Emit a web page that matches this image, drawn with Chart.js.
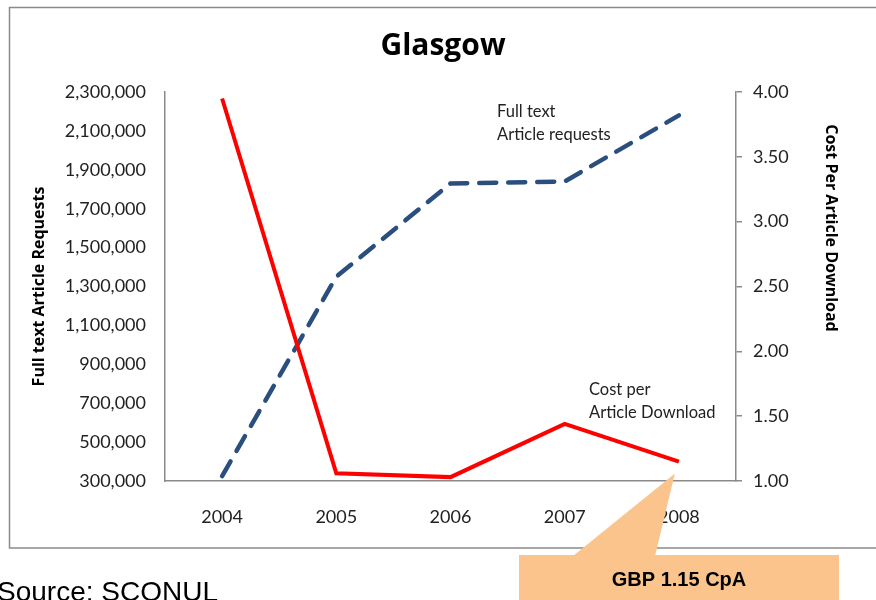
<!DOCTYPE html>
<html>
<head>
<meta charset="utf-8">
<script src="https://cdn.jsdelivr.net/npm/chart.js@4.4.1/dist/chart.umd.min.js"></script>
<style>
  html, body { margin: 0; padding: 0; background: #fff; }
  #wrap { width: 876px; height: 600px; overflow: hidden; }
</style>
</head>
<body>
<div id="wrap"><canvas id="myChart" width="876" height="600"></canvas></div>
<script>
const years = ['2004', '2005', '2006', '2007', '2008'];
const articleRequests = [325000, 1350000, 1830000, 1840000, 2180000];
const costPerDownload = [3.95, 1.06, 1.03, 1.44, 1.15];
const requestTicks = [300000, 500000, 700000, 900000, 1100000, 1300000, 1500000, 1700000, 1900000, 2100000, 2300000];
const costTicks = [1.0, 1.5, 2.0, 2.5, 3.0, 3.5, 4.0];
const callout = { year: 4, value: 1.15, text: 'GBP 1.15 CpA' };

const colors = {
  red: '#ff0000',
  blue: '#2a4f7f',
  axis: '#8a8a8a',
  text: '#222222',
  peach: '#fbc48d',
};

Chart.defaults.font.family = 'Lato, "Open Sans", sans-serif';
Chart.defaults.color = colors.text;

// frame, free text labels, source line and callout box
const extras = {
  id: 'extras',
  beforeDraw(chart) {
    const ctx = chart.ctx;
    ctx.save();
    ctx.fillStyle = '#fff';
    ctx.fillRect(0, 0, chart.width, chart.height);
    ctx.strokeStyle = colors.axis;
    ctx.lineWidth = 1.5;
    ctx.strokeRect(9.5, 7.5, 900, 540.5);
    ctx.restore();
  },
  afterDraw(chart) {
    const ctx = chart.ctx;
    const { x, y1 } = chart.scales;
    ctx.save();

    ctx.fillStyle = colors.text;
    ctx.font = '16.5px Lato';
    ctx.textAlign = 'left';
    ctx.textBaseline = 'middle';
    ctx.fillText('Full text', 497, 112);
    ctx.fillText('Article requests', 497, 135);
    ctx.fillText('Cost per', 589, 390);
    ctx.fillText('Article Download', 589, 413);

    // right axis title sits above centre in the original
    ctx.save();
    ctx.translate(831, 228);
    ctx.rotate(Math.PI / 2);
    ctx.fillStyle = '#000';
    ctx.font = 'bold 16px "Open Sans"';
    ctx.textAlign = 'center';
    ctx.fillText('Cost Per Article Download', 0, 0);
    ctx.restore();

    ctx.fillStyle = '#000';
    ctx.font = '28px "Liberation Sans", Arial';
    ctx.textBaseline = 'alphabetic';
    ctx.fillText('Source: SCONUL', -3, 601);

    const tipX = x.getPixelForValue(callout.year) - 4;
    const tipY = y1.getPixelForValue(callout.value) + 12;
    ctx.fillStyle = colors.peach;
    ctx.beginPath();
    ctx.moveTo(573, 556);
    ctx.lineTo(655, 556);
    ctx.lineTo(tipX, tipY);
    ctx.closePath();
    ctx.fill();
    ctx.fillRect(519, 555, 320, 50);

    ctx.fillStyle = '#000';
    ctx.font = 'bold 20px "Liberation Sans", Arial';
    ctx.textAlign = 'center';
    ctx.textBaseline = 'middle';
    ctx.fillText(callout.text, 679, 580);
    ctx.restore();
  },
};

const ctx = document.getElementById('myChart').getContext('2d');

const data = {
  labels: years,
  datasets: [
    {
      label: 'Cost per Article Download',
      data: costPerDownload,
      yAxisID: 'y1',
      borderColor: colors.red,
      borderWidth: 4,
      pointRadius: 0,
      tension: 0,
      fill: false,
    },
    {
      label: 'Full text Article requests',
      data: articleRequests,
      yAxisID: 'y',
      borderColor: colors.blue,
      borderWidth: 4.5,
      borderDash: [17, 12],
      borderCapStyle: 'round',
      pointRadius: 0,
      tension: 0,
      fill: false,
    },
  ],
};

const config = {
  type: 'line',
  data: data,
  plugins: [extras],
  options: {
    responsive: false,
    devicePixelRatio: 1,
    animation: false,
    layout: { padding: { left: 10, right: 0, top: 8, bottom: 59 } },
    plugins: {
      legend: { display: false },
      tooltip: { enabled: false },
      title: {
        display: true,
        text: 'Glasgow',
        color: '#000',
        font: { family: '"Open Sans"', size: 30, weight: 'bold' },
        padding: { top: 20, bottom: 28 },
      },
    },
    scales: {
      x: {
        offset: true,
        grid: { display: false },
        border: { display: true, color: colors.axis, width: 1.5 },
        ticks: { padding: 17, font: { size: 18 } },
        afterFit: (s) => { s.height = 60; },
      },
      y: {
        position: 'left',
        min: requestTicks[0],
        max: requestTicks[requestTicks.length - 1],
        grid: { display: false },
        border: { display: true, color: colors.axis, width: 1.5 },
        ticks: {
          stepSize: requestTicks[1] - requestTicks[0],
          padding: 11,
          font: { size: 18 },
          callback: (v) => v.toLocaleString('en-US'),
        },
        title: {
          display: true,
          text: 'Full text Article Requests',
          color: '#000',
          font: { family: '"Open Sans"', size: 16, weight: 'bold' },
          padding: { top: 20, bottom: 0 },
        },
        afterFit: (s) => { s.width = 155; },
      },
      y1: {
        position: 'right',
        min: costTicks[0],
        max: costTicks[costTicks.length - 1],
        grid: { drawOnChartArea: false, color: colors.axis, tickLength: 6, lineWidth: 1.5 },
        border: { display: true, color: colors.axis, width: 1.5 },
        ticks: {
          stepSize: costTicks[1] - costTicks[0],
          padding: 11,
          font: { size: 18 },
          callback: (v) => v.toFixed(2),
        },
        afterFit: (s) => { s.width = 140; },
      },
    },
  },
};

const myLineChart = new Chart(ctx, config);
</script>
</body>
</html>
